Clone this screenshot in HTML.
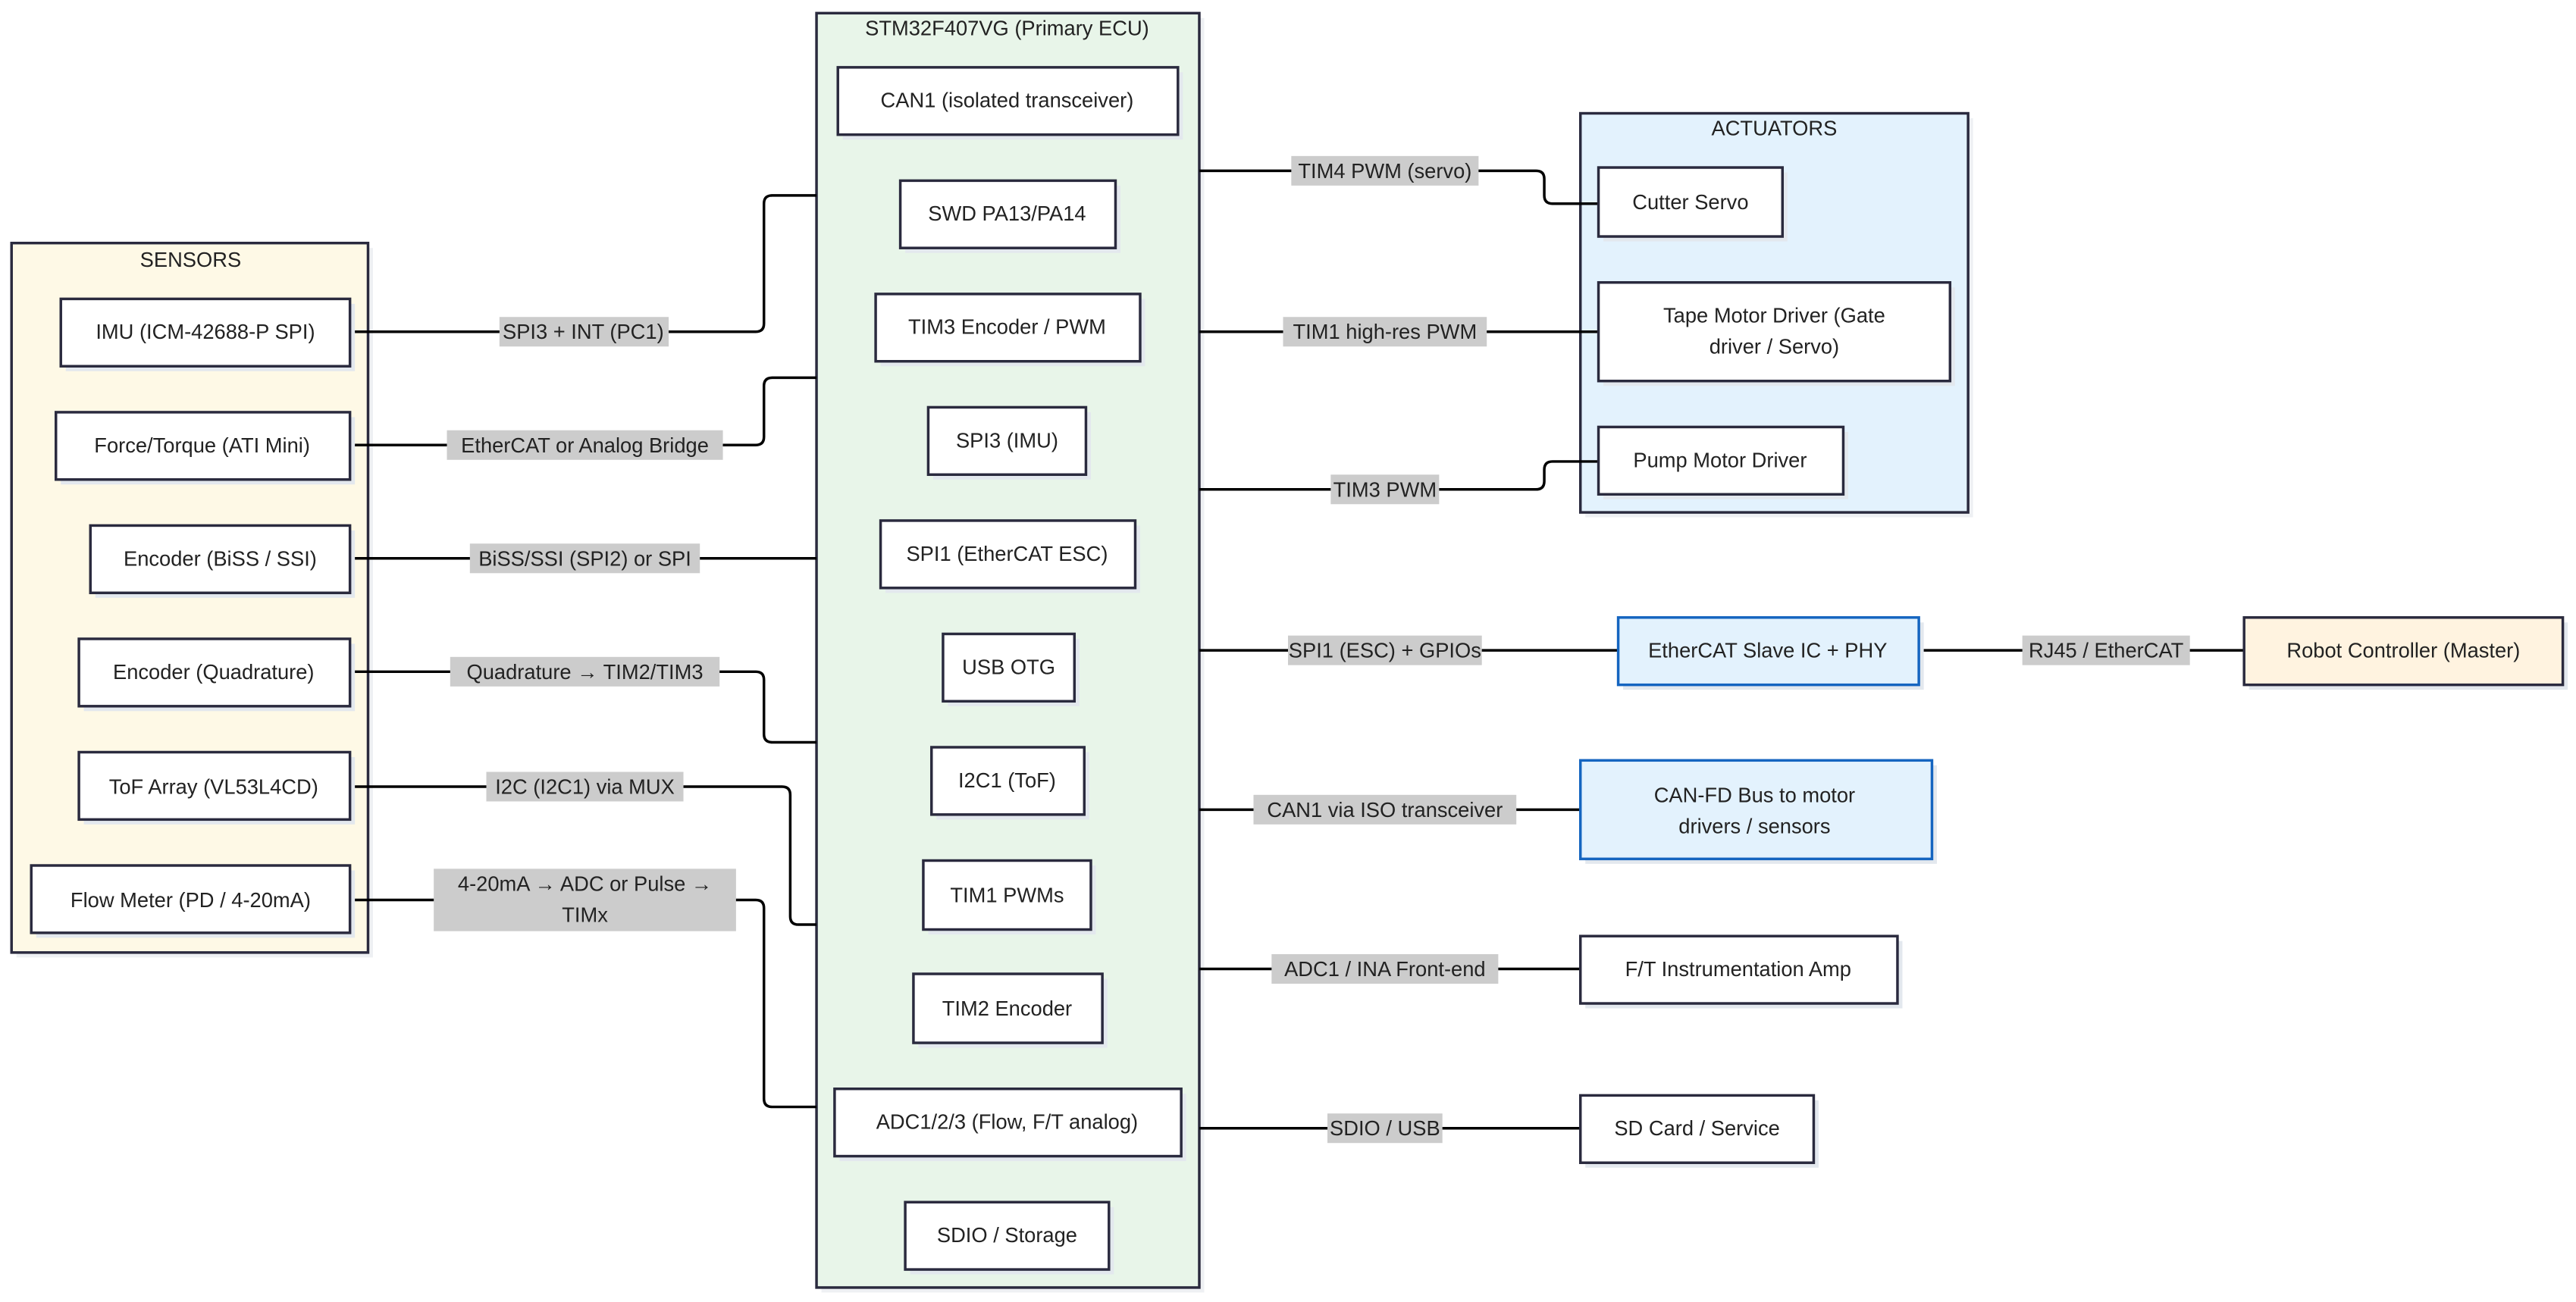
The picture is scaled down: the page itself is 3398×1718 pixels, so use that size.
<!DOCTYPE html>
<html><head><meta charset="utf-8"><style>
html,body{margin:0;padding:0;background:#fff;}
svg{display:block}
text{font-family:"Liberation Sans",sans-serif;font-size:12.6px;fill:#222;text-anchor:middle;dominant-baseline:central}
.n{fill:#fff;stroke:#2a2a3e;stroke-width:1.6}
.sh{fill:#e3e8ee}
.l{fill:none;stroke:#000;stroke-width:1.6}
.lb{fill:#cccccc}
</style></head><body>
<svg width="3398" height="1718" viewBox="0 0 1568 792.8" xmlns="http://www.w3.org/2000/svg">
<!-- clusters -->
<rect x="10" y="151" width="217" height="432" fill="#eef0f3"/>
<rect x="7" y="148" width="217" height="432" fill="#fef9e6" stroke="#2a2a3e" stroke-width="1.6"/>
<text x="116" y="158">SENSORS</text>
<rect x="500" y="11" width="233" height="776" fill="#eef0f3"/>
<rect x="497" y="8" width="233" height="776" fill="#e8f5e9" stroke="#2a2a3e" stroke-width="1.6"/>
<text x="613" y="17">STM32F407VG (Primary ECU)</text>
<rect x="965" y="72" width="236" height="243" fill="#eef0f3"/>
<rect x="962" y="69" width="236" height="243" fill="#e3f2fd" stroke="#2a2a3e" stroke-width="1.6"/>
<text x="1080" y="78">ACTUATORS</text>

<!-- connectors -->
<path class="l" d="M213 202 H460 Q465 202 465 197 V124 Q465 119 470 119 H497"/>
<path class="l" d="M213 271 H460 Q465 271 465 266 V235 Q465 230 470 230 H497"/>
<path class="l" d="M213 340 H497"/>
<path class="l" d="M213 409 H460 Q465 409 465 414 V447 Q465 452 470 452 H497"/>
<path class="l" d="M213 479 H476 Q481 479 481 484 V558 Q481 563 486 563 H497"/>
<path class="l" d="M213 548 H460 Q465 548 465 553 V669 Q465 674 470 674 H497"/>
<path class="l" d="M730 104 H935 Q940 104 940 109 V119 Q940 124 945 124 H973"/>
<path class="l" d="M730 202 H973"/>
<path class="l" d="M730 298 H935 Q940 298 940 293 V286 Q940 281 945 281 H973"/>
<path class="l" d="M730 396 H985"/>
<path class="l" d="M1168 396 H1366"/>
<path class="l" d="M730 493 H962"/>
<path class="l" d="M730 590 H962"/>
<path class="l" d="M730 687 H962"/>

<!-- labels -->
<rect class="lb" x="304" y="193" width="103" height="18"/><text x="355" y="202">SPI3 + INT (PC1)</text>
<rect class="lb" x="272" y="262" width="168" height="18"/><text x="356" y="271">EtherCAT or Analog Bridge</text>
<rect class="lb" x="286" y="331" width="140" height="18"/><text x="356" y="340">BiSS/SSI (SPI2) or SPI</text>
<rect class="lb" x="274" y="400" width="164" height="18"/><text x="356" y="409">Quadrature → TIM2/TIM3</text>
<rect class="lb" x="296" y="470" width="120" height="18"/><text x="356" y="479">I2C (I2C1) via MUX</text>
<rect class="lb" x="264" y="529" width="184" height="38"/><text x="356" y="538">4-20mA → ADC or Pulse →</text><text x="356" y="557">TIMx</text>
<rect class="lb" x="786" y="95" width="114" height="18"/><text x="843" y="104">TIM4 PWM (servo)</text>
<rect class="lb" x="781" y="193" width="124" height="18"/><text x="843" y="202">TIM1 high-res PWM</text>
<rect class="lb" x="810" y="289" width="66" height="18"/><text x="843" y="298">TIM3 PWM</text>
<rect class="lb" x="784" y="387" width="118" height="18"/><text x="843" y="396">SPI1 (ESC) + GPIOs</text>
<rect class="lb" x="1231" y="387" width="102" height="18"/><text x="1282" y="396">RJ45 / EtherCAT</text>
<rect class="lb" x="763" y="484" width="160" height="18"/><text x="843" y="493">CAN1 via ISO transceiver</text>
<rect class="lb" x="774" y="581" width="138" height="18"/><text x="843" y="590">ADC1 / INA Front-end</text>
<rect class="lb" x="808" y="678" width="70" height="18"/><text x="843" y="687">SDIO / USB</text>

<!-- sensor nodes -->
<g>
<rect class="sh" x="40" y="185" width="176" height="41"/><rect class="n" x="37" y="182" width="176" height="41"/><text x="125" y="202">IMU (ICM-42688-P SPI)</text>
<rect class="sh" x="37" y="254" width="179" height="41"/><rect class="n" x="34" y="251" width="179" height="41"/><text x="123" y="271">Force/Torque (ATI Mini)</text>
<rect class="sh" x="58" y="323" width="158" height="41"/><rect class="n" x="55" y="320" width="158" height="41"/><text x="134" y="340">Encoder (BiSS / SSI)</text>
<rect class="sh" x="51" y="392" width="165" height="41"/><rect class="n" x="48" y="389" width="165" height="41"/><text x="130" y="409">Encoder (Quadrature)</text>
<rect class="sh" x="51" y="461" width="165" height="41"/><rect class="n" x="48" y="458" width="165" height="41"/><text x="130" y="479">ToF Array (VL53L4CD)</text>
<rect class="sh" x="22" y="530" width="194" height="41"/><rect class="n" x="19" y="527" width="194" height="41"/><text x="116" y="548">Flow Meter (PD / 4-20mA)</text>
</g>
<!-- ECU nodes -->
<g>
<rect class="sh" x="513" y="44" width="207" height="41"/><rect class="n" x="510" y="41" width="207" height="41"/><text x="613" y="61">CAN1 (isolated transceiver)</text>
<rect class="sh" x="551" y="113" width="131" height="41"/><rect class="n" x="548" y="110" width="131" height="41"/><text x="613" y="130">SWD PA13/PA14</text>
<rect class="sh" x="536" y="182" width="161" height="41"/><rect class="n" x="533" y="179" width="161" height="41"/><text x="613" y="199">TIM3 Encoder / PWM</text>
<rect class="sh" x="568" y="251" width="96" height="41"/><rect class="n" x="565" y="248" width="96" height="41"/><text x="613" y="268">SPI3 (IMU)</text>
<rect class="sh" x="539" y="320" width="155" height="41"/><rect class="n" x="536" y="317" width="155" height="41"/><text x="613" y="337">SPI1 (EtherCAT ESC)</text>
<rect class="sh" x="577" y="389" width="80" height="41"/><rect class="n" x="574" y="386" width="80" height="41"/><text x="614" y="406">USB OTG</text>
<rect class="sh" x="570" y="458" width="93" height="41"/><rect class="n" x="567" y="455" width="93" height="41"/><text x="613" y="475">I2C1 (ToF)</text>
<rect class="sh" x="565" y="527" width="102" height="42"/><rect class="n" x="562" y="524" width="102" height="42"/><text x="613" y="545">TIM1 PWMs</text>
<rect class="sh" x="559" y="596" width="115" height="42"/><rect class="n" x="556" y="593" width="115" height="42"/><text x="613" y="614">TIM2 Encoder</text>
<rect class="sh" x="511" y="666" width="211" height="41"/><rect class="n" x="508" y="663" width="211" height="41"/><text x="613" y="683">ADC1/2/3 (Flow, F/T analog)</text>
<rect class="sh" x="554" y="735" width="124" height="41"/><rect class="n" x="551" y="732" width="124" height="41"/><text x="613" y="752">SDIO / Storage</text>
</g>
<!-- actuators -->
<rect class="sh" x="976" y="105" width="112" height="42"/><rect class="n" x="973" y="102" width="112" height="42"/><text x="1029" y="123">Cutter Servo</text>
<rect class="sh" x="976" y="175" width="214" height="60"/><rect class="n" x="973" y="172" width="214" height="60"/><text x="1080" y="192">Tape Motor Driver (Gate</text><text x="1080" y="211">driver / Servo)</text>
<rect class="sh" x="976" y="263" width="149" height="41"/><rect class="n" x="973" y="260" width="149" height="41"/><text x="1047" y="280">Pump Motor Driver</text>
<!-- right nodes -->
<rect class="sh" x="988" y="379" width="183" height="41"/><rect x="985" y="376" width="183" height="41" fill="#e3f2fd" stroke="#1565c0" stroke-width="1.6"/><text x="1076" y="396">EtherCAT Slave IC + PHY</text>
<rect class="sh" x="1369" y="379" width="194" height="41"/><rect x="1366" y="376" width="194" height="41" fill="#fff3e0" stroke="#2a2a3e" stroke-width="1.6"/><text x="1463" y="396">Robot Controller (Master)</text>
<rect class="sh" x="965" y="466" width="214" height="60"/><rect x="962" y="463" width="214" height="60" fill="#e3f2fd" stroke="#1565c0" stroke-width="1.6"/><text x="1068" y="484">CAN-FD Bus to motor</text><text x="1068" y="503">drivers / sensors</text>
<rect class="sh" x="965" y="573" width="193" height="41"/><rect class="n" x="962" y="570" width="193" height="41"/><text x="1058" y="590">F/T Instrumentation Amp</text>
<rect class="sh" x="965" y="670" width="142" height="41"/><rect class="n" x="962" y="667" width="142" height="41"/><text x="1033" y="687">SD Card / Service</text>
</svg>
</body></html>
